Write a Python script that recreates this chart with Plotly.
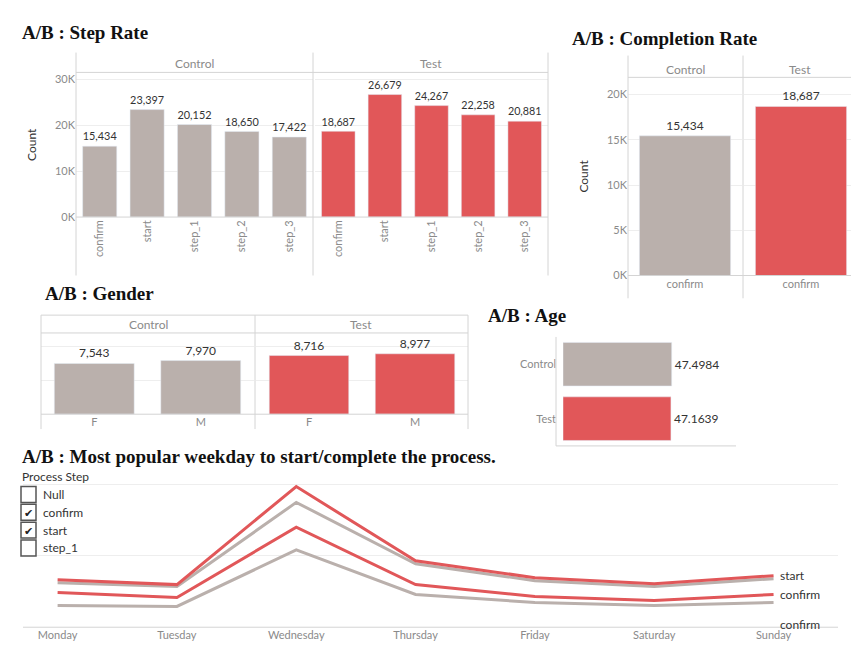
import plotly.graph_objects as go

W, H = 859, 649
GREY = "#BAB0AC"
RED = "#E15759"
LINE = "#d4d4d4"
TXT = "#333333"
TICK = "#8a8a8a"

# data
steps = ["confirm", "start", "step_1", "step_2", "step_3"]
step_control = [15434, 23397, 20152, 18650, 17422]
step_test = [18687, 26679, 24267, 22258, 20881]
completion_control = [15434]
completion_test = [18687]
genders = ["F", "M"]
gender_control = [7543, 7970]
gender_test = [8716, 8977]
age_groups = ["Control", "Test"]
age_mean = [47.4984, 47.1639]
weekdays = ["Monday", "Tuesday", "Wednesday", "Thursday", "Friday", "Saturday", "Sunday"]
test_start = [1344, 1204, 3976, 1876, 1400, 1232, 1456]
control_start = [1260, 1148, 3528, 1792, 1316, 1148, 1372]
test_confirm = [980, 840, 2828, 1204, 868, 756, 924]
control_confirm = [616, 588, 2184, 924, 700, 616, 700]


def px(x):
    return x / W


def py(y):
    return 1 - y / H


fig = go.Figure()
fnt = dict(family="Lato, Open Sans, sans-serif")


def bars(x, y, color, n, w=0.72):
    fig.add_trace(go.Bar(x=x, y=y, marker_color=color, width=w,
                         text=[f"{v:,}" for v in y], textposition="outside",
                         cliponaxis=False,
                         textfont=dict(size=12, color=TXT),
                         xaxis="x" + n, yaxis="y" + n, showlegend=False))


bars(steps, step_control, GREY, "1")
bars(steps, step_test, RED, "2")
bars(["confirm"], completion_control, GREY, "3", 0.8)
bars(["confirm"], completion_test, RED, "4", 0.8)
bars(genders, gender_control, GREY, "5", 0.75)
bars(genders, gender_test, RED, "6", 0.75)

fig.add_trace(go.Bar(y=age_groups, x=age_mean, orientation="h",
                     marker_color=[GREY, RED], width=0.8,
                     text=[f"{v}" for v in age_mean], textposition="outside",
                     cliponaxis=False, textfont=dict(size=12, color=TXT),
                     xaxis="x7", yaxis="y7", showlegend=False))

for vals, col in [(control_confirm, GREY), (test_confirm, RED),
                  (control_start, GREY), (test_start, RED)]:
    fig.add_trace(go.Scatter(x=weekdays, y=vals, mode="lines",
                             line=dict(color=col, width=3),
                             xaxis="x8", yaxis="y8", showlegend=False))

tickf = dict(size=11, color=TICK)
cat = dict(type="category", showgrid=False, zeroline=False, showline=False,
           tickfont=tickf, ticks="", fixedrange=True)
val = dict(showgrid=True, gridcolor="#eeeeee", zeroline=False, showline=False,
           tickfont=tickf, fixedrange=True)

lay = dict(
    xaxis=dict(cat, domain=[px(68), px(305)], anchor="y", tickangle=-90),
    yaxis=dict(val, domain=[py(211), py(65)], anchor="x", range=[0, 31500],
               tickvals=[0, 10000, 20000, 30000],
               ticktext=["0K", "10K", "20K", "30K"],
               title=dict(text="Count", font=dict(size=12, color=TXT))),
    xaxis2=dict(cat, domain=[px(307), px(540)], anchor="y2", tickangle=-90),
    yaxis2=dict(val, domain=[py(211), py(65)], anchor="x2", range=[0, 31500],
                tickvals=[0, 10000, 20000, 30000], showticklabels=False),
    xaxis3=dict(cat, domain=[px(620), px(734)], anchor="y3"),
    yaxis3=dict(val, domain=[py(270), py(70)], anchor="x3", range=[0, 21900],
                tickvals=[0, 5000, 10000, 15000, 20000],
                ticktext=["0K", "5K", "10K", "15K", "20K"],
                title=dict(text="Count", font=dict(size=12, color=TXT))),
    xaxis4=dict(cat, domain=[px(736), px(850)], anchor="y4"),
    yaxis4=dict(val, domain=[py(270), py(70)], anchor="x4", range=[0, 21900],
                tickvals=[0, 5000, 10000, 15000, 20000], showticklabels=False),
    xaxis5=dict(cat, domain=[px(33), px(246)], anchor="y5"),
    yaxis5=dict(val, domain=[py(410), py(328)], anchor="x5", range=[0, 12070],
                tickvals=[5000, 10000], showticklabels=False),
    xaxis6=dict(cat, domain=[px(248), px(460)], anchor="y6"),
    yaxis6=dict(val, domain=[py(410), py(328)], anchor="x6", range=[0, 12070],
                tickvals=[5000, 10000], showticklabels=False),
    xaxis7=dict(domain=[px(555), px(728)], anchor="y7", range=[0, 75.6],
                visible=False, fixedrange=True),
    yaxis7=dict(cat, domain=[py(442), py(332)], anchor="x7",
                autorange="reversed", ticklabelstandoff=6),
    xaxis8=dict(cat, domain=[px(15), px(830)], anchor="y8", range=[-0.29, 6.54]),
    yaxis8=dict(val, domain=[py(625), py(460)], anchor="x8", range=[0, 4620],
                tickvals=[2016, 4032], showticklabels=False),
)

shapes = []


def rect(x0, y0, x1, y1):
    shapes.append(dict(type="rect", xref="paper", yref="paper",
                       x0=px(x0), x1=px(x1), y0=py(y0), y1=py(y1),
                       line=dict(color=LINE, width=1)))


def hline(x0, x1, y):
    shapes.append(dict(type="line", xref="paper", yref="paper",
                       x0=px(x0), x1=px(x1), y0=py(y), y1=py(y),
                       line=dict(color=LINE, width=1)))


def vline(x, y0, y1):
    shapes.append(dict(type="line", xref="paper", yref="paper",
                       x0=px(x), x1=px(x), y0=py(y0), y1=py(y1),
                       line=dict(color=LINE, width=1)))


anns = []


def text(x, y, s, size=12, color=TICK, xa="center", family=None, bold=False):
    f = dict(size=size, color=color, family=family or fnt["family"])
    anns.append(dict(x=px(x), y=py(y), xref="paper", yref="paper", text=s,
                     showarrow=False, xanchor=xa, yanchor="middle", font=f))


# step rate frame
hline(68, 540, 65)
vline(68, 45, 270)
vline(305, 45, 270)
vline(540, 45, 270)
hline(68, 540, 211)
text(186, 56, "Control")
text(423, 56, "Test")
# completion frame
hline(620, 850, 70)
vline(620, 48, 293)
vline(735, 48, 293)
vline(850, 48, 293)
hline(620, 850, 270)
text(677, 62, "Control")
text(792, 62, "Test")
# gender frame
hline(33, 460, 328)
vline(33, 310, 425)
vline(247, 310, 425)
vline(460, 310, 425)
hline(33, 460, 310)
hline(33, 460, 410)
text(140, 319, "Control")
text(353, 319, "Test")
# age frame
vline(548, 332, 442)
hline(548, 728, 442)
# line chart frame
hline(15, 830, 625)

serif = "Liberation Serif, Times New Roman, serif"
text(12, 25, "<b>A/B : Step Rate</b>", 19, "#111", "left", serif)
text(562, 31, "<b>A/B : Completion Rate</b>", 19, "#111", "left", serif)
text(35, 288, "<b>A/B : Gender</b>", 19, "#111", "left", serif)
text(478, 310, "<b>A/B : Age</b>", 19, "#111", "left", serif)
text(12, 453, "<b>A/B : Most popular weekday to start/complete the process.</b>",
     19, "#111", "left", serif)

# filter legend
text(12, 473, "Process Step", 12, TXT, "left")
items = [("Null", False), ("confirm", True), ("start", True), ("step_1", False)]
for i, (lbl, on) in enumerate(items):
    yc = 491 + i * 18
    shapes.append(dict(type="rect", xref="paper", yref="paper",
                       x0=px(13), x1=px(28), y0=py(yc + 8), y1=py(yc - 8),
                       line=dict(color="#555", width=1.5)))
    if on:
        text(20, yc, "✔", 11, "#222")
    text(33, yc, lbl, 12, TXT, "left")

# line end labels
for lbl, v, dy in [("start", test_start[-1], 0), ("confirm", test_confirm[-1], 0),
                   ("confirm", control_confirm[-1], -22)]:
    anns.append(dict(x="Sunday", y=v, xref="x8", yref="y8", text=lbl,
                     showarrow=False, xanchor="left", xshift=4, yshift=dy,
                     font=dict(size=12, color=TXT)))

fig.update_layout(**lay)
fig.update_layout(width=W, height=H, margin=dict(l=0, r=0, t=0, b=0),
                  paper_bgcolor="white", plot_bgcolor="white",
                  font=fnt, shapes=shapes, annotations=anns, bargap=0.3)
fig.write_html("out.html")
